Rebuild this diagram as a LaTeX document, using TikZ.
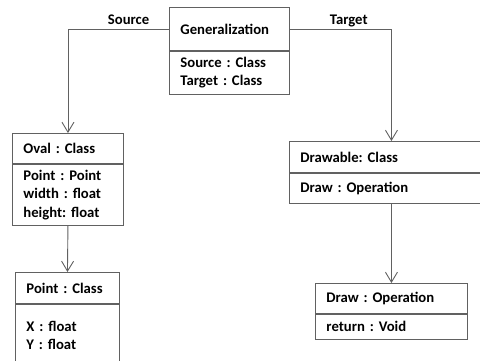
\documentclass[tikz,border=0pt]{standalone}
\usepackage{fontspec}
\setmainfont{Carlito}
\frenchspacing
\usetikzlibrary{arrows.meta,positioning}

\begin{document}
\begin{tikzpicture}[x=1pt,y=-1pt,
    font=\fontsize{14.7}{18.3}\selectfont\bfseries,
    box/.style={draw=black!62, line width=0.9pt, anchor=north west, inner xsep=11pt,
        inner ysep=2pt, align=left},
    lbl/.style={above, inner sep=0pt, text depth=0pt, yshift=4pt},
    link/.style={draw=black!62, line width=0.9pt, -{Straight Barb[length=10pt,width=12pt]}}]
    \useasboundingbox (0,0) rectangle (480,360);
    \clip (0,0) rectangle (480,360);
    % Generalization
    \node[box, minimum width=120pt, text width=98pt, minimum height=43pt] (genhead) at (169,7) {Generalization};
    \node[box, minimum width=120pt, text width=98pt, minimum height=43pt] (genbody) at (genhead.south west) {Source : Class\\Target : Class};
    % Oval
    \node[box, minimum width=111pt, text width=89pt, minimum height=30pt] (ovalhead) at (12,133) {Oval : Class};
    \node[box, minimum width=111pt, text width=89pt, minimum height=61pt] (ovalbody) at (ovalhead.south west) {Point : Point\\width : float\\height: float};
    % Point
    \node[box, minimum width=104pt, text width=82pt, minimum height=31pt] (pointhead) at (15,272) {Point : Class};
    \node[box, minimum width=104pt, text width=82pt, minimum height=62pt] (pointbody) at (pointhead.south west) {X : float\\Y : float};
    % Drawable
    \node[box, minimum width=204pt, text width=182pt, minimum height=31pt] (drawablehead) at (289,141) {Drawable: Class};
    \node[box, minimum width=204pt, text width=182pt, minimum height=30pt] (drawablebody) at (drawablehead.south west) {Draw : Operation};
    % Draw
    \node[box, minimum width=152pt, text width=130pt, minimum height=30pt] (drawhead) at (315,283) {Draw : Operation};
    \node[box, minimum width=152pt, text width=130pt, minimum height=25pt] (drawbody) at (drawhead.south west) {return : Void};

    \draw[link] (genhead.west) -| node[lbl, pos=0.2] {Source} (ovalhead.north);
    \draw[link] (genhead.east) -| node[lbl, pos=0.29] {Target} (drawablehead.north);
    \draw[link] (ovalbody.south) -- (pointhead.north);
    \draw[link] (drawablebody.south) -- (drawhead.north);
\end{tikzpicture}
\end{document}
